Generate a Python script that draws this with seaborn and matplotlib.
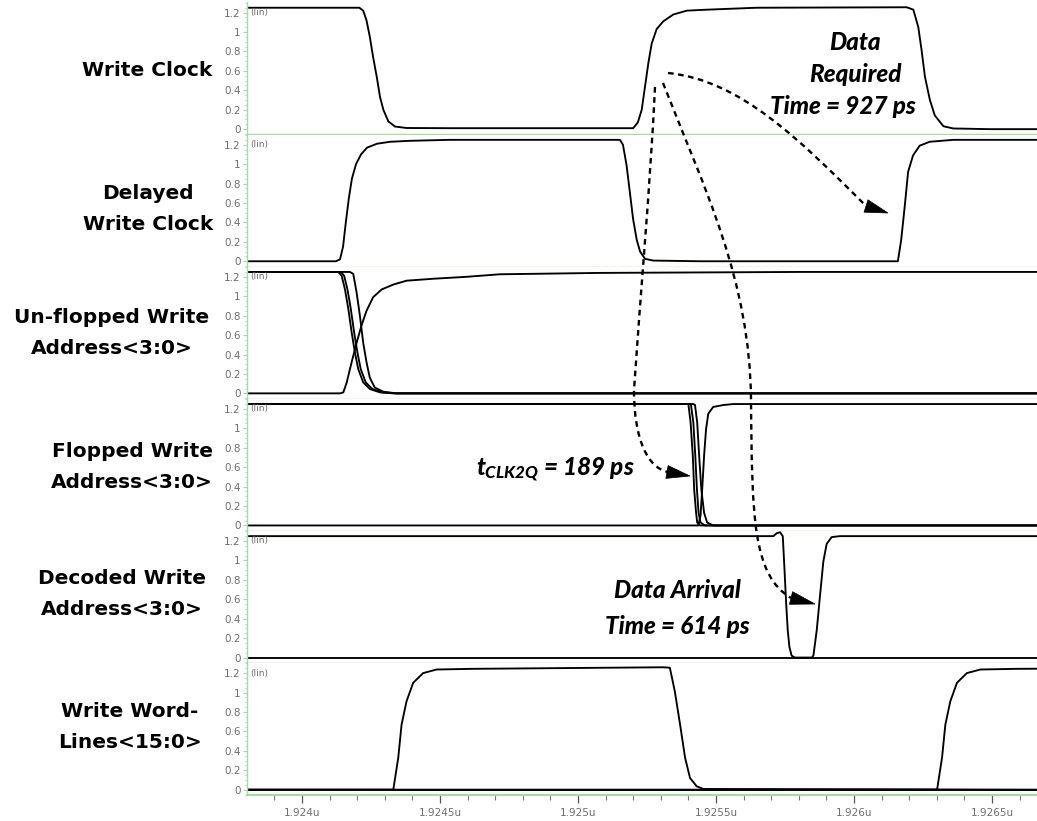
import numpy as np
import matplotlib
matplotlib.use("Agg")
import matplotlib.pyplot as plt
import seaborn as sns
from matplotlib.path import Path
from matplotlib.patches import PathPatch, Polygon
from matplotlib.transforms import Affine2D
from matplotlib.ticker import FixedLocator, MultipleLocator, NullLocator

# ---------------------------------------------------------------- data (time in ns, level in V)
PANEL_LABELS = [
    "Write Clock",
    "Delayed\nWrite Clock",
    "Un-flopped Write\nAddress<3:0>",
    "Flopped Write\nAddress<3:0>",
    "Decoded Write\nAddress<3:0>",
    "Write Word-\nLines<15:0>",
]

T_START, T_END = 1923.801, 1926.663

wclk_t = [1923.801, 1924.208, 1924.222, 1924.234, 1924.246, 1924.258, 1924.271, 1924.283,
          1924.295, 1924.313, 1924.337, 1924.379, 1924.536, 1925.200, 1925.217, 1925.231,
          1925.243, 1925.255, 1925.267, 1925.285, 1925.309, 1925.345, 1925.394, 1925.466,
          1925.647, 1926.191, 1926.215, 1926.233, 1926.245, 1926.257, 1926.275, 1926.293,
          1926.324, 1926.360, 1926.493, 1926.663]
wclk_v = [1.25, 1.25, 1.22, 1.12, 0.95, 0.74, 0.54, 0.33,
          0.20, 0.08, 0.027, 0.012, 0.01, 0.01, 0.07, 0.20,
          0.44, 0.68, 0.88, 1.03, 1.11, 1.18, 1.22, 1.23,
          1.25, 1.255, 1.23, 1.05, 0.81, 0.54, 0.30, 0.14,
          0.03, 0.007, 0.0, 0.0]

dclk_t = [1923.801, 1924.123, 1924.138, 1924.149, 1924.159, 1924.170, 1924.181, 1924.196,
          1924.214, 1924.236, 1924.272, 1924.319, 1924.391, 1924.536, 1925.152, 1925.163,
          1925.176, 1925.188, 1925.200, 1925.213, 1925.225, 1925.243, 1925.273, 1925.442,
          1926.159, 1926.171, 1926.184, 1926.196, 1926.214, 1926.238, 1926.274, 1926.359,
          1926.663]
dclk_v = [0.0, 0.0, 0.02, 0.15, 0.40, 0.65, 0.85, 1.00,
          1.10, 1.17, 1.21, 1.23, 1.24, 1.25, 1.25, 1.20,
          0.99, 0.71, 0.43, 0.22, 0.10, 0.025, 0.007, 0.0,
          0.0, 0.22, 0.57, 0.92, 1.09, 1.19, 1.23, 1.25,
          1.25]

unf_a_t = [1923.801, 1924.132, 1924.144, 1924.156, 1924.168, 1924.180, 1924.192, 1924.204,
           1924.222, 1924.246, 1924.283, 1924.331, 1926.663]
unf_a_v = [1.25, 1.25, 1.21, 1.07, 0.87, 0.63, 0.42, 0.25, 0.113, 0.045, 0.01, 0.0, 0.0]
unf_b_t = [1923.801, 1924.141, 1924.153, 1924.165, 1924.177, 1924.189, 1924.201, 1924.213,
           1924.231, 1924.255, 1924.292, 1924.340, 1926.663]
unf_b_v = [1.25, 1.25, 1.21, 1.07, 0.87, 0.63, 0.42, 0.25, 0.113, 0.045, 0.01, 0.0, 0.0]
unf_c_t = [1923.801, 1924.174, 1924.186, 1924.198, 1924.210, 1924.222, 1924.234, 1924.246,
           1924.264, 1924.295, 1924.343, 1926.663]
unf_c_v = [1.25, 1.25, 1.23, 1.04, 0.80, 0.52, 0.32, 0.16, 0.06, 0.017, 0.0, 0.0]
unf_d_t = [1923.801, 1924.138, 1924.150, 1924.162, 1924.180, 1924.198, 1924.216, 1924.234,
           1924.258, 1924.289, 1924.331, 1924.379, 1924.476, 1924.597, 1924.717, 1925.080,
           1925.804, 1926.663]
unf_d_v = [0.0, 0.0, 0.01, 0.11, 0.32, 0.52, 0.70, 0.85,
           0.99, 1.07, 1.12, 1.16, 1.18, 1.20, 1.226, 1.24,
           1.25, 1.25]

flp_1_t = [1923.801, 1925.395, 1925.400, 1925.408, 1925.416, 1925.421, 1925.428, 1925.432, 1925.442, 1926.663]
flp_1_v = [1.25, 1.25, 1.25, 1.06, 0.72, 0.37, 0.13, 0.03, 0.0, 0.0]
flp_2_t = [1923.801, 1925.405, 1925.409, 1925.418, 1925.425, 1925.431, 1925.437, 1925.444, 1925.460, 1926.663]
flp_2_v = [1.25, 1.25, 1.25, 1.06, 0.72, 0.37, 0.13, 0.03, 0.0, 0.0]
flp_3_t = [1923.801, 1925.418, 1925.424, 1925.432, 1925.439, 1925.447, 1925.457, 1925.468, 1925.490, 1926.663]
flp_3_v = [1.25, 1.25, 1.24, 1.06, 0.72, 0.37, 0.13, 0.03, 0.0, 0.0]
flp_r_t = [1923.801, 1925.436, 1925.444, 1925.450, 1925.457, 1925.464, 1925.472, 1925.490,
           1925.527, 1925.563, 1926.663]
flp_r_v = [0.0, 0.0, 0.10, 0.37, 0.72, 0.99, 1.15, 1.22, 1.24, 1.25, 1.25]

dec_t = [1923.801, 1925.708, 1925.720, 1925.732, 1925.742, 1925.748, 1925.754, 1925.760,
         1925.766, 1925.774, 1925.786, 1925.847, 1925.853, 1925.865, 1925.877, 1925.889,
         1925.901, 1925.919, 1925.949, 1926.663]
dec_v = [1.25, 1.25, 1.28, 1.29, 1.25, 0.92, 0.57, 0.28,
         0.11, 0.02, 0.0, 0.0, 0.02, 0.28, 0.64, 0.99,
         1.17, 1.24, 1.25, 1.25]
dec_low_t = [1923.801, 1926.663]
dec_low_v = [0.0, 0.0]

wl_a_t = [1923.801, 1924.331, 1924.349, 1924.361, 1924.379, 1924.403, 1924.439, 1924.488,
          1924.621, 1925.309, 1925.333, 1925.351, 1925.370, 1925.388, 1925.406, 1925.430,
          1925.454, 1926.663]
wl_a_v = [0.0, 0.0, 0.33, 0.67, 0.91, 1.10, 1.20, 1.237,
          1.244, 1.26, 1.255, 1.01, 0.67, 0.33, 0.12, 0.035,
          0.007, 0.0]
wl_b_t = [1923.801, 1926.301, 1926.319, 1926.331, 1926.349, 1926.373, 1926.409, 1926.458,
          1926.591, 1926.663]
wl_b_v = [0.0, 0.0, 0.33, 0.67, 0.91, 1.10, 1.20, 1.237, 1.244, 1.245]
wl_low_t = [1923.801, 1926.663]
wl_low_v = [0.0, 0.0]

PANEL_TRACES = [
    [(wclk_t, wclk_v)],
    [(dclk_t, dclk_v)],
    [(unf_a_t, unf_a_v), (unf_b_t, unf_b_v), (unf_c_t, unf_c_v), (unf_d_t, unf_d_v)],
    [(flp_1_t, flp_1_v), (flp_2_t, flp_2_v), (flp_3_t, flp_3_v), (flp_r_t, flp_r_v)],
    [(dec_low_t, dec_low_v), (dec_t, dec_v)],
    [(wl_low_t, wl_low_v), (wl_a_t, wl_a_v), (wl_b_t, wl_b_v)],
]

Y_TICKS = [0.0, 0.2, 0.4, 0.6, 0.8, 1.0, 1.2]
Y_TICK_LABELS = ["0", "0.2", "0.4", "0.6", "0.8", "1", "1.2"]
X_TICKS = [1924.0, 1924.5, 1925.0, 1925.5, 1926.0, 1926.5]
X_TICK_LABELS = ["1.924u", "1.9245u", "1.925u", "1.9255u", "1.926u", "1.9265u"]

# ---------------------------------------------------------------- style
sns.set_theme(style="white")
plt.rcParams["font.family"] = ["DejaVu Sans"]
plt.rcParams["mathtext.fontset"] = "custom"
plt.rcParams["mathtext.rm"] = "Lato:black:italic"
plt.rcParams["mathtext.it"] = "Lato:black:italic"
plt.rcParams["mathtext.bf"] = "Lato:black:italic"

GRID_GREEN = "#a9d9a9"
TICK_GRAY = "#6e6e6e"

fig = plt.figure(figsize=(10.37, 8.21), dpi=100)
W, H = 1037, 821
pix = Affine2D().scale(1.0 / W, -1.0 / H).translate(0, 1) + fig.transFigure

left_px, panel_h, first_bottom = 247, 132.1, 134.5
axes = []
for k, traces in enumerate(PANEL_TRACES):
    bottom_px = first_bottom + panel_h * k
    ax = fig.add_axes([left_px / W, 1 - bottom_px / H, 1 - left_px / W, panel_h / H])
    for t, v in traces:
        sns.lineplot(x=t, y=v, ax=ax, color="black", linewidth=1.35,
                     estimator=None, sort=False)
    ax.set_xlim(T_START, T_END)
    ax.set_ylim(-0.055, 1.305)
    ax.set_xlabel("")
    ax.set_ylabel("")
    for side in ("top", "right"):
        ax.spines[side].set_visible(False)
    for side in ("left", "bottom"):
        ax.spines[side].set_color(GRID_GREEN)
        ax.spines[side].set_linewidth(1.0)
    ax.yaxis.set_major_locator(FixedLocator(Y_TICKS))
    ax.set_yticklabels(Y_TICK_LABELS)
    ax.yaxis.set_minor_locator(MultipleLocator(0.05))
    ax.tick_params(axis="y", which="major", left=True, direction="out", length=3,
                   width=0.8, color=GRID_GREEN, labelcolor=TICK_GRAY, labelsize=7.5, pad=1.5)
    ax.tick_params(axis="y", which="minor", left=True, direction="out", length=1.5,
                   width=0.6, color=GRID_GREEN)
    ax.text(0.004, 1.2, "(lin)", transform=ax.get_yaxis_transform(), ha="left",
            va="center", fontsize=6.5, color=TICK_GRAY)
    if k < len(PANEL_TRACES) - 1:
        ax.xaxis.set_major_locator(NullLocator())
        ax.xaxis.set_minor_locator(NullLocator())
    else:
        ax.xaxis.set_major_locator(FixedLocator(X_TICKS))
        ax.set_xticklabels(X_TICK_LABELS)
        ax.xaxis.set_minor_locator(MultipleLocator(0.1))
        ax.tick_params(axis="x", which="major", bottom=True, direction="out", length=6,
                       width=0.9, color="#555555", labelcolor=TICK_GRAY, labelsize=7.5, pad=3)
        ax.tick_params(axis="x", which="minor", bottom=True, direction="out", length=3.5,
                       width=0.8, color="#777777")
        ax.spines["bottom"].set_linewidth(1.6)
    axes.append(ax)

# ---------------------------------------------------------------- signal names
label_pos = [(147, 71), (148, 209), (112, 333), (132, 467), (122, 594), (130, 727)]
for text, (x, y) in zip(PANEL_LABELS, label_pos):
    fig.text(x / W, 1 - y / H, text, ha="center", va="center", multialignment="center",
             fontsize=14.5, fontweight="bold", color="black", linespacing=1.75)

# ---------------------------------------------------------------- timing annotations
NOTE_FONT = dict(fontsize=17.5, fontweight=900, style="italic",
                 family=["Lato", "DejaVu Sans"], color="black")
note_kw = dict(ha="center", va="center", transform=pix, **NOTE_FONT)
fig.text(855, 42, "Data", **note_kw)
fig.text(855, 75, "Required", **note_kw)
fig.text(843, 107, "Time = 927 ps", **note_kw)
fig.text(677, 590, "Data Arrival", **note_kw)
fig.text(677, 627, "Time = 614 ps", **note_kw)
fig.text(476, 470, r"$t_{CLK2Q}$ = 189 ps", ha="left", va="center", transform=pix,
         **NOTE_FONT)

DASH = dict(fill=False, edgecolor="black", linewidth=1.7, linestyle=(0, (2.4, 1.9)),
            capstyle="butt", transform=pix)

arrow_paths = [
    [(668, 73), (740, 80), (800, 140), (866, 206)],
    [(655, 87), (650, 190), (640, 300), (634, 390), (634, 440), (648, 468), (668, 472)],
    [(663, 83), (705, 190), (750, 280), (751, 400), (752, 520), (753, 575), (791, 598)],
]
arrow_heads = [((866, 206), (888, 213)), ((667, 472), (690, 476)), ((791, 598), (815, 604))]

for pts in arrow_paths:
    codes = [Path.MOVETO] + [Path.CURVE4] * (len(pts) - 1)
    fig.add_artist(PathPatch(Path(pts, codes), **DASH))

for base, tip in arrow_heads:
    b = np.array(base, float)
    t = np.array(tip, float)
    d = t - b
    n = np.array([-d[1], d[0]]) / np.linalg.norm(d)
    verts = [t, b + n * 6.5, b - n * 6.5]
    fig.add_artist(Polygon(verts, closed=True, facecolor="black", edgecolor="black",
                           linewidth=0.5, transform=pix))

fig.savefig("out.png", dpi=100)
